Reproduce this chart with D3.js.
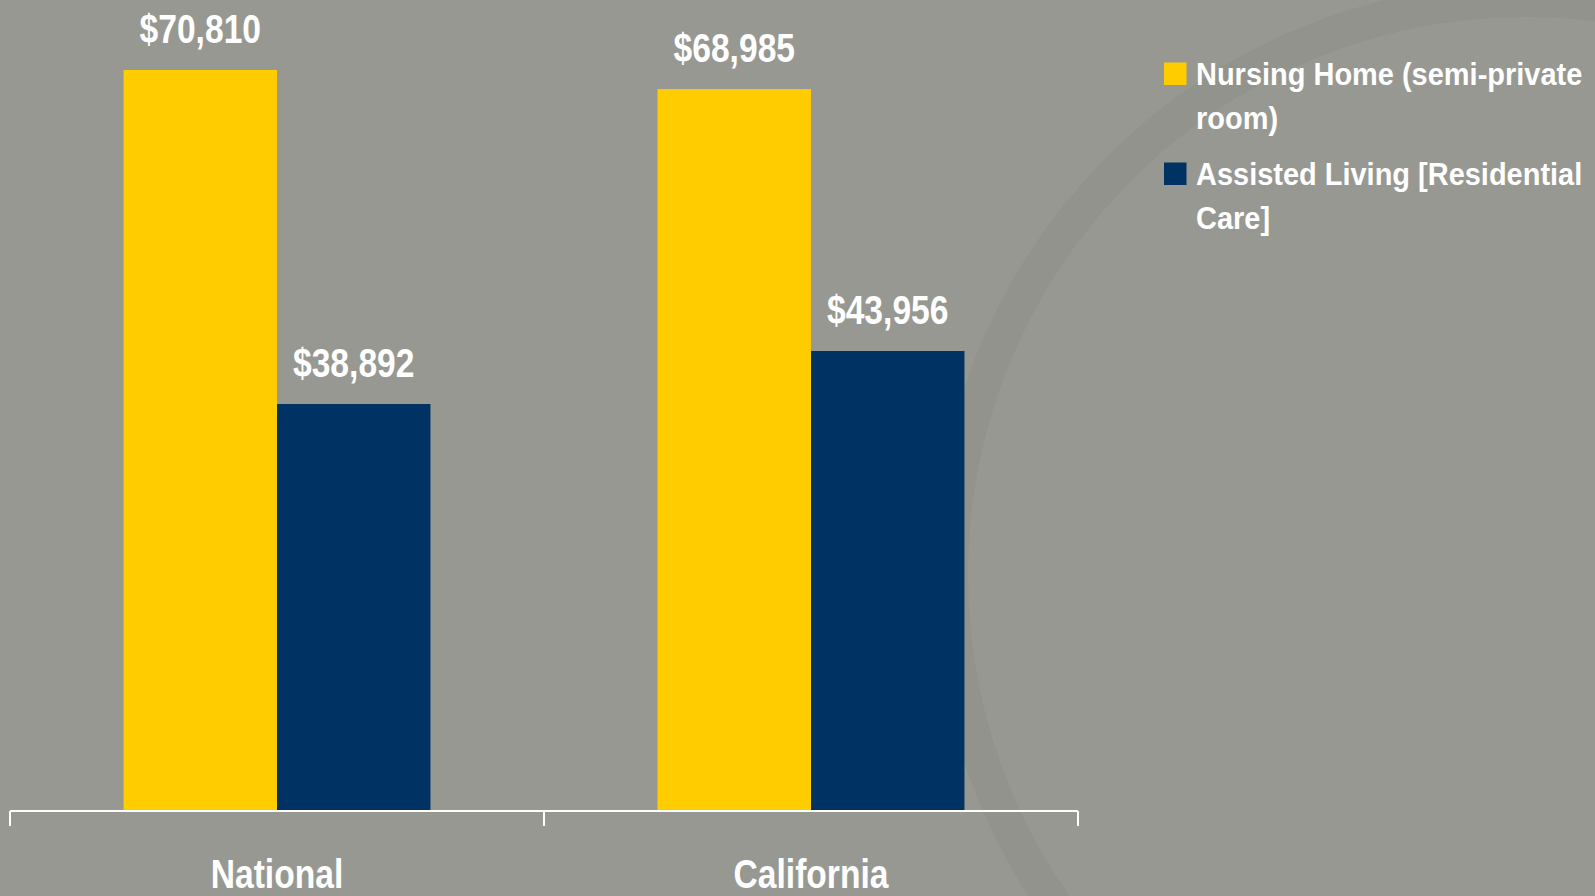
<!DOCTYPE html>
<html>
<head>
<meta charset="utf-8">
<script src="https://cdn.jsdelivr.net/npm/d3@7"></script>
<style>
	html, body { margin: 0; padding: 0; background: #979892; overflow: hidden; }
	svg { display: block; }
</style>
</head>
<body>
<div class="chart"></div>
<script>
// chart values
const categories = ['National', 'California'],
	series = ['Nursing Home (semi-private room)', 'Assisted Living [Residential Care]'],
	legendLines = [['Nursing Home (semi-private', 'room)'], ['Assisted Living [Residential', 'Care]']],
	nursingHome = [70810, 68985],
	assistedLiving = [38892, 43956];

const colors = ['#ffcc00', '#003264'];

const outerW = 1595,
	outerH = 896;

// no narrow face installed, so squeeze Liberation Sans bold
const narrow = 0.82;

const svg = d3.select('.chart').append('svg')
	.attr('width', outerW)
	.attr('height', outerH);

// background + faint watermark ring
svg.append('rect')
	.attr('width', outerW)
	.attr('height', outerH)
	.attr('fill', '#979892');

svg.append('circle')
	.attr('cx', 1526)
	.attr('cy', 575)
	.attr('r', 575)
	.attr('fill', 'none')
	.attr('stroke', 'rgba(60,60,55,0.05)')
	.attr('stroke-width', 34);

const rows = categories.map((c, i) => ({
	cat: c,
	values: [nursingHome[i], assistedLiving[i]]
}));

const x0 = d3.scaleBand()
	.domain(categories)
	.range([10, 1078])
	.padding(0);

const x1 = d3.scaleBand()
	.domain(series)
	.range([0, x0.bandwidth()])
	.paddingInner(0)
	.paddingOuter(0.74);

const y = d3.scaleLinear()
	.domain([0, 77500])
	.range([811, 0]);

const labelFont = '"Liberation Sans", Arial, sans-serif';

// bars
const groups = svg.selectAll('.group')
	.data(rows)
	.enter().append('g')
	.attr('class', 'group')
	.attr('transform', d => `translate(${x0(d.cat)},0)`);

groups.selectAll('rect')
	.data(d => d.values.map((v, i) => ({ key: series[i], v: v, i: i })))
	.enter().append('rect')
	.attr('x', d => x1(d.key))
	.attr('width', x1.bandwidth())
	.attr('y', d => y(d.v))
	.attr('height', d => y(0) - y(d.v))
	.attr('fill', d => colors[d.i]);

groups.selectAll('.val')
	.data(d => d.values.map((v, i) => ({ key: series[i], v: v, i: i })))
	.enter().append('text')
	.attr('class', 'val')
	.attr('transform', d => `translate(${x1(d.key) + x1.bandwidth() / 2}, ${y(d.v) - 27}) scale(${narrow}, 1)`)
	.attr('text-anchor', 'middle')
	.attr('fill', '#ffffff')
	.style('font-family', labelFont)
	.style('font-weight', 'bold')
	.style('font-size', '41px')
	.text(d => '$' + d3.format(',')(d.v));

// axis
const axis = svg.append('g')
	.attr('transform', `translate(0, ${y(0)})`)
	.call(d3.axisBottom(x0)
		.tickValues([])
		.tickSizeOuter(0));
axis.select('.domain').remove();

const edges = [x0.range()[0]].concat(categories.map(c => x0(c) + x0.bandwidth()));

axis.append('line')
	.attr('x1', x0.range()[0])
	.attr('x2', x0.range()[1])
	.attr('stroke', '#ffffff')
	.attr('stroke-width', 2);

axis.selectAll('.tk')
	.data(edges)
	.enter().append('line')
	.attr('class', 'tk')
	.attr('x1', d => d)
	.attr('x2', d => d)
	.attr('y1', 0)
	.attr('y2', 15)
	.attr('stroke', '#ffffff')
	.attr('stroke-width', 2);

axis.selectAll('.cat')
	.data(categories)
	.enter().append('text')
	.attr('class', 'cat')
	.attr('transform', d => `translate(${x0(d) + x0.bandwidth() / 2}, 77) scale(${narrow}, 1)`)
	.attr('text-anchor', 'middle')
	.attr('fill', '#ffffff')
	.style('font-family', labelFont)
	.style('font-weight', 'bold')
	.style('font-size', '41px')
	.text(d => d);

// legend
const legend = svg.append('g')
	.attr('transform', 'translate(1164, 85)');

const item = legend.selectAll('.item')
	.data(series)
	.enter().append('g')
	.attr('class', 'item')
	.attr('transform', (d, i) => `translate(0, ${i * 100})`);

item.append('rect')
	.attr('x', 0)
	.attr('y', -22.5)
	.attr('width', 22.5)
	.attr('height', 22.5)
	.attr('fill', (d, i) => colors[i]);

item.append('text')
	.attr('transform', 'translate(32, 0) scale(0.95, 1)')
	.attr('fill', '#ffffff')
	.style('font-family', labelFont)
	.style('font-weight', 'bold')
	.style('font-size', '30.5px')
	.selectAll('tspan')
	.data((d, i) => legendLines[i])
	.enter().append('tspan')
	.attr('x', 0)
	.attr('y', (d, j) => j * 44)
	.text(d => d);
</script>
</body>
</html>
